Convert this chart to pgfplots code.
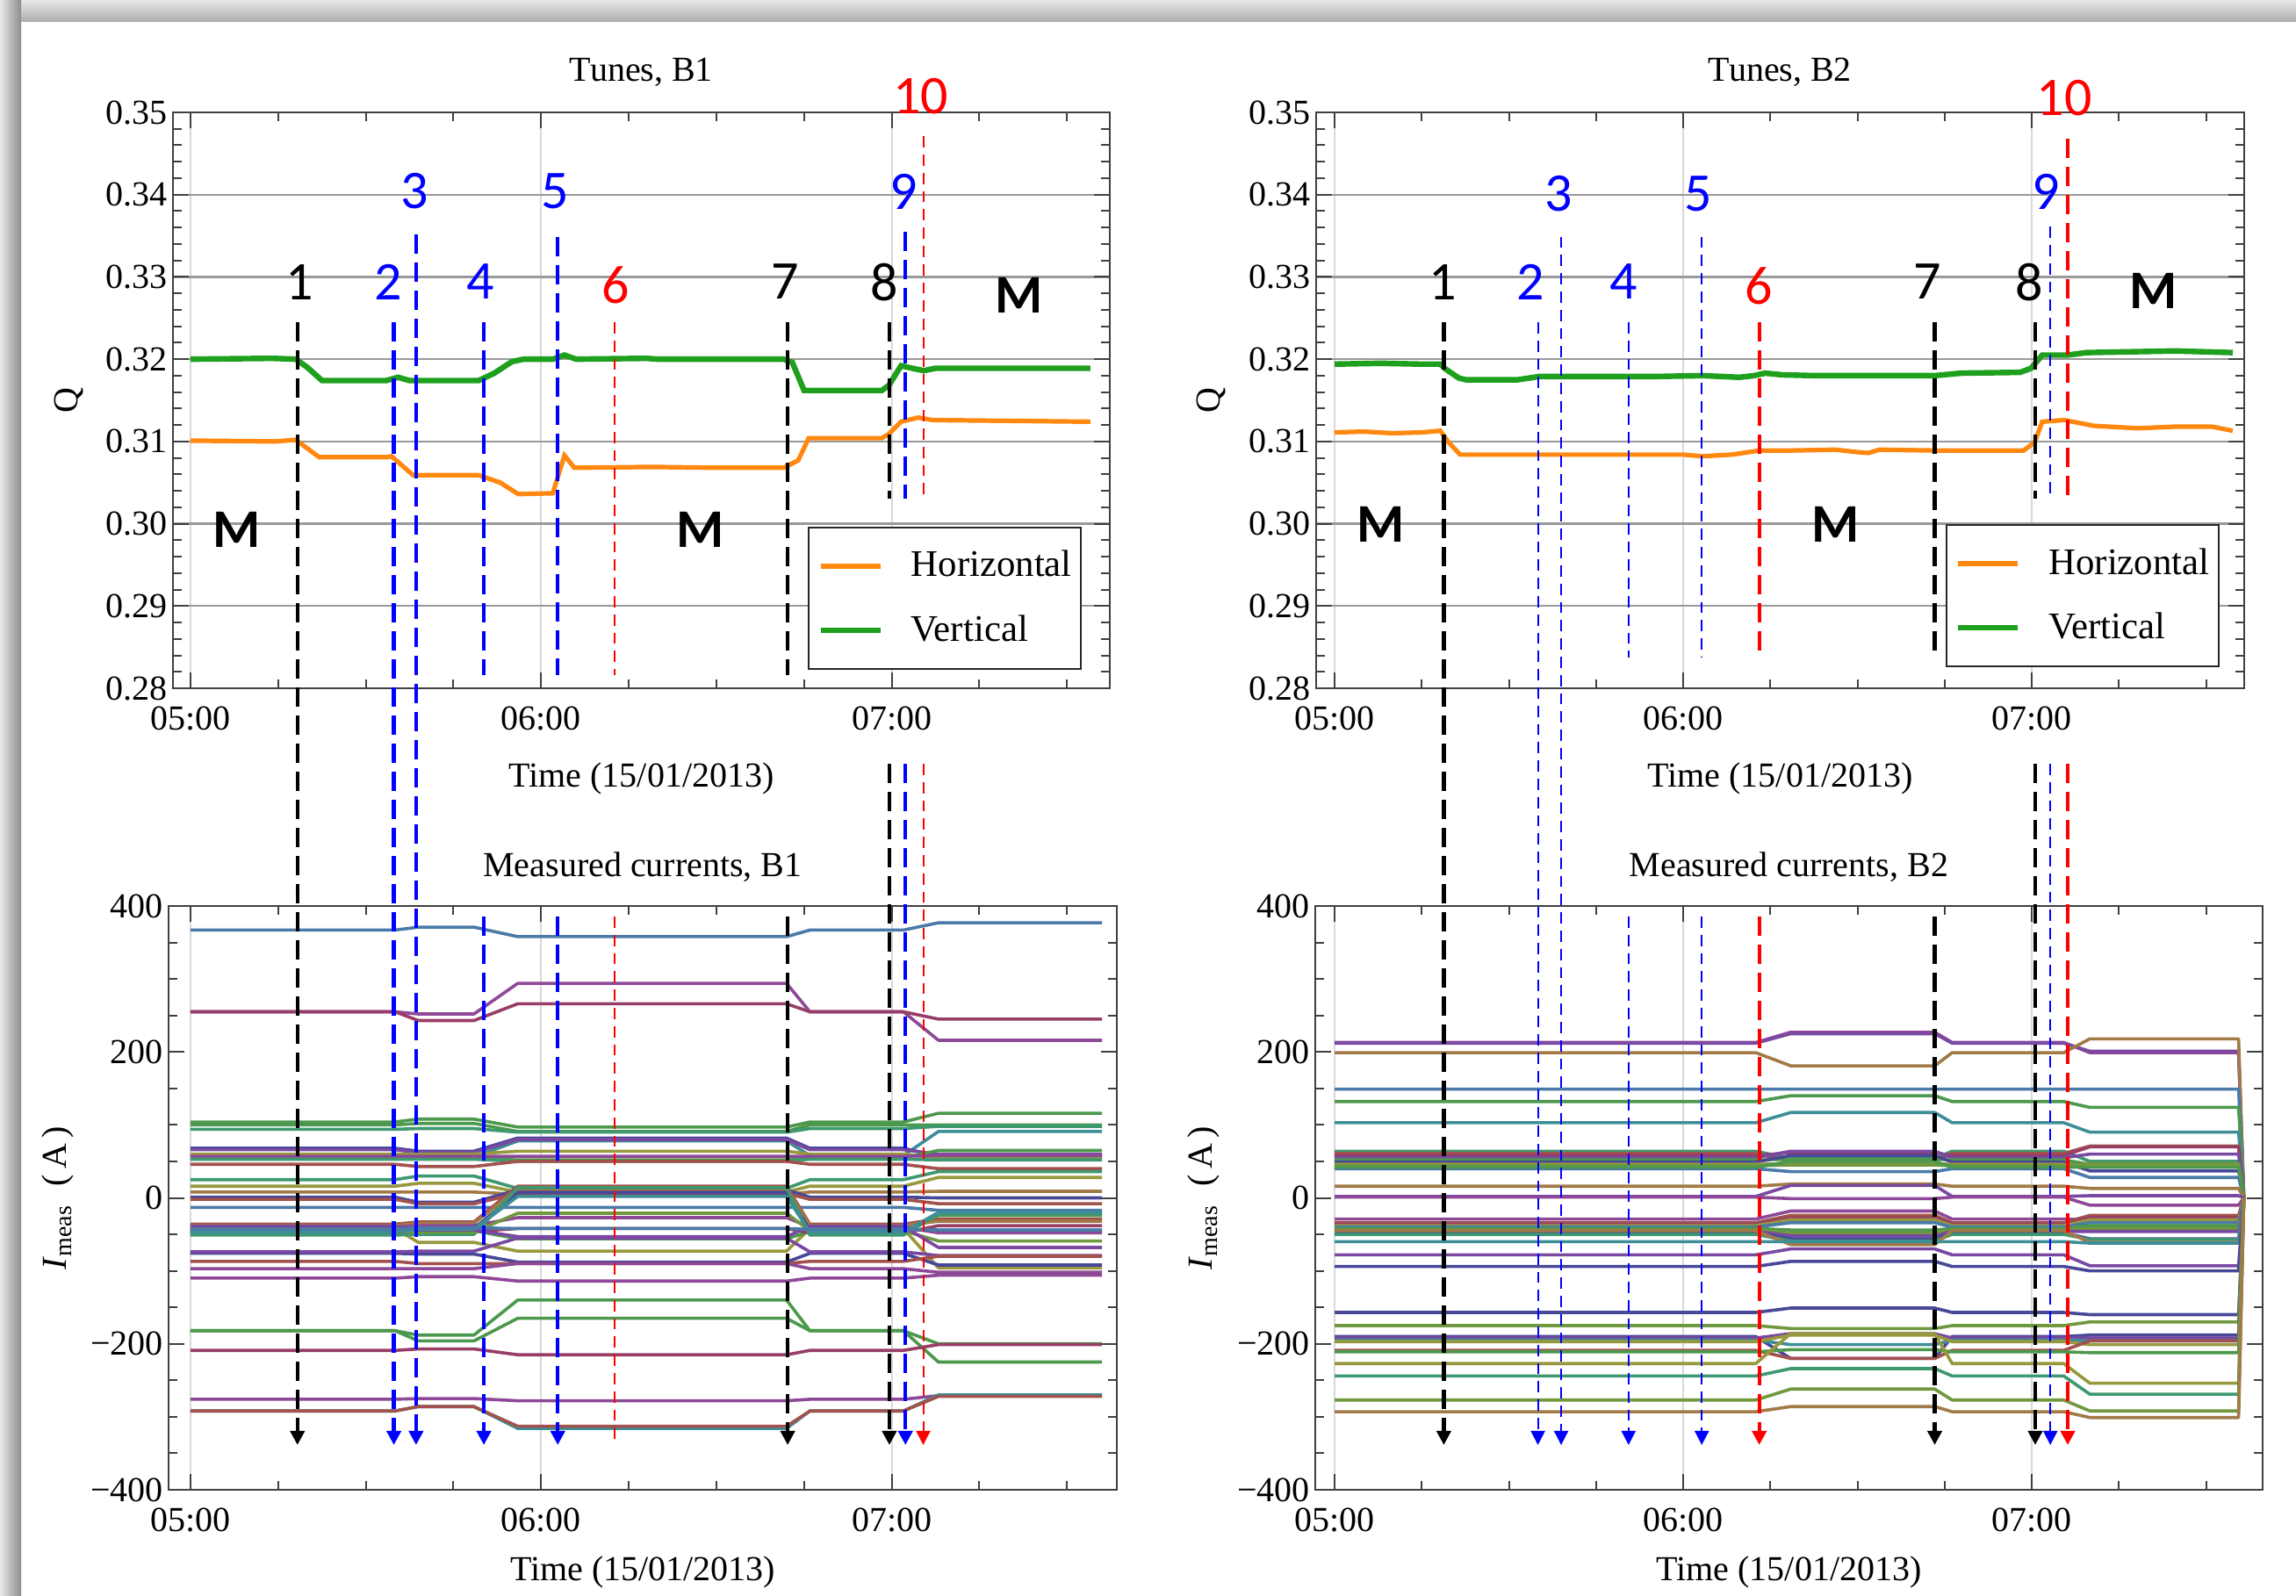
\documentclass[border=0pt]{standalone}
\usepackage{fontspec}
\setmainfont{Liberation Serif}
\newfontfamily\cfont{Carlito}
\usepackage{pgfplots}
\pgfplotsset{compat=1.18}
\usetikzlibrary{arrows.meta}

\definecolor{qorange}{RGB}{255,136,17}
\definecolor{qgreen}{RGB}{30,160,30}
\definecolor{c1}{RGB}{74,122,168}
\definecolor{c2}{RGB}{142,72,152}
\definecolor{c3}{RGB}{152,62,102}
\definecolor{c4}{RGB}{76,152,76}
\definecolor{c5}{RGB}{62,142,152}
\definecolor{c6}{RGB}{72,72,152}
\definecolor{c7}{RGB}{162,82,76}
\definecolor{c8}{RGB}{152,152,62}
\definecolor{c9}{RGB}{162,122,72}
\definecolor{c10}{RGB}{112,152,62}
\definecolor{c11}{RGB}{62,152,112}
\definecolor{c12}{RGB}{122,72,162}

\newcommand{\labfont}{\cfont\fontsize{15.5}{18}\selectfont}
\newcommand{\labfontb}{\cfont\bfseries\fontsize{15.5}{18}\selectfont}

\tikzset{
  dK/.style={black, line width=1.1pt, dash pattern=on 5.5pt off 2.5pt},
  dB/.style={blue, line width=1.1pt, dash pattern=on 5.5pt off 2.5pt},
  dR/.style={red, line width=1.1pt, dash pattern=on 5.5pt off 2.5pt},
  dbt/.style={blue, line width=0.5pt, dash pattern=on 3.2pt off 2pt},
  drt/.style={red, line width=0.5pt, dash pattern=on 3.2pt off 2pt},
  arr/.style={-{Triangle[width=4pt,length=4pt]}},
  lab/.style={font=\labfont, inner sep=0pt},
  labM/.style={font=\labfontb, inner sep=0pt},
  cur/.style={line width=0.9pt, line join=round},
}

% B1 currents: levels S0..S4 between the correction steps
\newcommand{\curA}[6]{\addplot[cur,#1] coordinates {(0,#2)(35,#2)(39,#3)(48.5,#3)(56,#4)(102,#4)(106,#5)(122,#5)(128,#6)(156,#6)};}
% B2 currents: levels S0..S3, then back to zero at the end
\newcommand{\curB}[5]{\addplot[cur,#1] coordinates {(0,#2)(72.5,#2)(78.5,#3)(103.3,#3)(106.3,#4)(125.5,#4)(130,#5)(155.6,#5)(156.5,0)};}

\pgfplotsset{
  common/.style={scale only axis, anchor=south west, clip=false,
    axis line style={black!75, line width=0.5pt},
    tick style={black!75, line width=0.5pt},
    major tick length=4.5pt, minor tick length=2.5pt,
    tick align=inside,
    xtick={0,60,120}, xticklabels={05:00,06:00,07:00},
    minor xtick={15,30,45,75,90,105,135,150},
    xmajorgrids, major x grid style={black!15, line width=0.5pt},
    tick label style={font=\fontsize{10}{12}\selectfont},
    xticklabel style={yshift=-1.7pt},
    yticklabel style={xshift=2pt},
    xlabel={Time (15/01/2013)},
    label style={font=\fontsize{10}{12}\selectfont},
    title style={font=\fontsize{9.8}{12}\selectfont},
  },
  tunes/.style={common, height=164pt, ymin=0.28, ymax=0.35,
    ytick={0.28,0.29,0.30,0.31,0.32,0.33,0.34,0.35},
    yticklabels={0.28,0.29,0.30,0.31,0.32,0.33,0.34,0.35},
    minor y tick num=4,
    ymajorgrids, major y grid style={black!40, line width=0.6pt},
    every axis title/.style={at={(0.5,1)}, anchor=base, yshift=9pt},
    every axis x label/.style={at={(axis description cs:0.5,0)}, anchor=base, yshift=-28pt},
    ylabel={Q},
    legend cell align=left,
    legend image code/.code={\draw[##1] (0pt,0pt) -- (17pt,0pt);},
    legend style={anchor=north west, draw=black!85, line width=0.5pt, fill=white,
      font=\fontsize{10.7}{13}\selectfont, inner xsep=2.6pt, inner ysep=6pt,
      row sep=8.3pt,
      nodes={inner xsep=0pt, inner ysep=0pt, text height=8pt, text depth=2pt},
      /tikz/every odd column/.append style={column sep=8pt}},
  },
  currents/.style={common, height=166.25pt, ymin=-400, ymax=400,
    ytick={-400,-200,0,200,400},
    yticklabels={−400,−200,0,200,400},
    minor y tick num=3,
    every axis title/.style={at={(0.5,1)}, anchor=base, yshift=8.5pt},
    every axis x label/.style={at={(axis description cs:0.5,0)}, anchor=base, yshift=-25.9pt},
    ylabel={\textit{I}\textsubscript{meas}\hspace{0.5em}(\,A\,)},
  },
}

\begin{document}
\begin{tikzpicture}
\path[use as bounding box] (0pt,0pt) rectangle (653.75pt,-454.5pt);
\fill[white] (0pt,0pt) rectangle (653.75pt,-454.5pt);
\shade[top color=black!9, bottom color=black!32] (0pt,0pt) rectangle (653.75pt,-6.25pt);
\shade[left color=black!9, right color=black!45] (0pt,0pt) rectangle (6pt,-454.5pt);

% ---------------- Tunes B1 ----------------
\begin{axis}[tunes, at={(49.25pt,-196pt)}, width=266.75pt,
  xmin=-3.005, xmax=157.33, title={Tunes, B1},
  every axis y label/.style={at={(axis description cs:-0.1106,0.5)}, rotate=90, anchor=center},
  legend style={at={(0.6776,0.2805)}}]
\addplot[qorange, line width=1.3pt] coordinates {(0,0.3101)(14.5,0.3100)(18,0.3102)(22,0.3081)(33.8,0.3081)(34.4,0.3082)(38.1,0.3059)(49.3,0.3059)(53,0.3050)(56.1,0.3036)(62,0.3037)(64,0.3083)(65.7,0.3068)(79,0.3069)(90,0.3068)(101.5,0.3068)(104,0.3077)(105.8,0.3104)(118.3,0.3104)(119.5,0.3109)(121.6,0.3124)(124.5,0.3129)(127,0.3126)(141,0.3125)(154,0.3124)};
\addlegendentry{Horizontal}
\addplot[qgreen, line width=1.6pt] coordinates {(0,0.3200)(14,0.3201)(18,0.3200)(20,0.3190)(22.5,0.3174)(33.5,0.3174)(35.5,0.3178)(37.5,0.3174)(49.3,0.3174)(52,0.3183)(55,0.3197)(57,0.3200)(62,0.3200)(64,0.3205)(66,0.3200)(78,0.3201)(80,0.3200)(101.5,0.3200)(103,0.3196)(105,0.3162)(118.3,0.3162)(119.5,0.3168)(121.6,0.3192)(123.5,0.3189)(125.5,0.3186)(127.5,0.3189)(154,0.3189)};
\addlegendentry{Vertical}
\coordinate (A1) at (axis cs:18.3,0.3245);
\coordinate (A2) at (axis cs:34.8,0.3245);
\coordinate (A3) at (axis cs:38.6,0.3352);
\draw[dB] (axis cs:50.2,0.3245) -- (axis cs:50.2,0.2816);
\draw[dB] (axis cs:62.85,0.3349) -- (axis cs:62.85,0.2816);
\draw[drt] (axis cs:72.6,0.3245) -- (axis cs:72.6,0.2816);
\draw[dK] (axis cs:102.2,0.3245) -- (axis cs:102.2,0.2816);
\draw[dK] (axis cs:119.6,0.3245) -- (axis cs:119.6,0.3030);
\draw[dB] (axis cs:122.35,0.3355) -- (axis cs:122.35,0.3030);
\draw[drt] (axis cs:125.4,0.3471) -- (axis cs:125.4,0.3030);
\node[lab] at (axis cs:18.7,0.3294) {1};
\node[lab,text=blue] at (axis cs:33.8,0.3294) {2};
\node[lab,text=blue] at (axis cs:38.4,0.3404) {3};
\node[lab,text=blue] at (axis cs:49.6,0.3294) {4};
\node[lab,text=blue] at (axis cs:62.4,0.3404) {5};
\node[lab,text=red] at (axis cs:72.7,0.3290) {6};
\node[lab] at (axis cs:101.7,0.3294) {7};
\node[lab] at (axis cs:118.7,0.3294) {8};
\node[lab,text=blue] at (axis cs:122.0,0.3404) {9};
\node[lab,text=red] at (axis cs:125.0,0.3520) {10};
\node[labM] at (axis cs:7.9,0.2993) {M};
\node[labM] at (axis cs:87.2,0.2993) {M};
\node[labM] at (axis cs:141.8,0.3278) {M};
\end{axis}

% ---------------- Tunes B2 ----------------
\begin{axis}[tunes, at={(374.75pt,-196pt)}, width=264.25pt,
  xmin=-3.174, xmax=156.57, title={Tunes, B2},
  every axis y label/.style={at={(axis description cs:-0.1126,0.5)}, rotate=90, anchor=center},
  legend style={at={(0.678,0.285)}}]
\addplot[qorange, line width=1.3pt] coordinates {(0,0.3111)(5,0.3112)(10,0.3110)(15,0.3111)(18.2,0.3113)(19.5,0.3100)(21.6,0.3084)(30,0.3084)(45,0.3084)(60,0.3084)(63.3,0.3082)(68.4,0.3084)(73.2,0.3089)(78.6,0.3089)(86.2,0.3090)(90,0.3087)(91.9,0.3086)(93.8,0.3090)(103.3,0.3089)(107.8,0.3089)(118.6,0.3089)(120.5,0.3099)(121.8,0.3124)(125.6,0.3126)(130.7,0.3119)(138.3,0.3116)(144.7,0.3118)(151,0.3118)(154.6,0.3113)};
\addlegendentry{Horizontal}
\addplot[qgreen, line width=1.6pt] coordinates {(0,0.3194)(8,0.3195)(15,0.3194)(18.2,0.3194)(19.1,0.3188)(21.4,0.3177)(22.6,0.3175)(31.5,0.3175)(35.3,0.3179)(43,0.3179)(55.7,0.3179)(63.3,0.3180)(69.7,0.3178)(72.2,0.3180)(74.1,0.3183)(77,0.3181)(82.4,0.3180)(103.3,0.3180)(107.8,0.3183)(118,0.3184)(119.9,0.3189)(121.8,0.3205)(126.2,0.3205)(129.4,0.3208)(144.7,0.3210)(154.6,0.3208)};
\addlegendentry{Vertical}
\coordinate (B1) at (axis cs:18.8,0.3245);
\coordinate (B2) at (axis cs:35.0,0.3245);
\coordinate (B3) at (axis cs:39.0,0.3349);
\draw[dbt] (axis cs:50.6,0.3245) -- (axis cs:50.6,0.2837);
\draw[dbt] (axis cs:63.2,0.3349) -- (axis cs:63.2,0.2837);
\draw[dR] (axis cs:73.1,0.3245) -- (axis cs:73.1,0.2837);
\draw[dK] (axis cs:103.3,0.3245) -- (axis cs:103.3,0.2837);
\draw[dK] (axis cs:120.6,0.3245) -- (axis cs:120.6,0.3030);
\draw[dbt] (axis cs:123.2,0.3361) -- (axis cs:123.2,0.3030);
\draw[dR] (axis cs:126.2,0.3468) -- (axis cs:126.2,0.3030);
\node[lab] at (axis cs:18.6,0.3294) {1};
\node[lab,text=blue] at (axis cs:33.7,0.3294) {2};
\node[lab,text=blue] at (axis cs:38.5,0.3401) {3};
\node[lab,text=blue] at (axis cs:49.8,0.3294) {4};
\node[lab,text=blue] at (axis cs:62.6,0.3401) {5};
\node[lab,text=red] at (axis cs:73.0,0.3289) {6};
\node[lab] at (axis cs:102.1,0.3294) {7};
\node[lab] at (axis cs:119.5,0.3294) {8};
\node[lab,text=blue] at (axis cs:122.4,0.3404) {9};
\node[lab,text=red] at (axis cs:125.6,0.3517) {10};
\node[labM] at (axis cs:7.9,0.2999) {M};
\node[labM] at (axis cs:86.2,0.2999) {M};
\node[labM] at (axis cs:141.0,0.3283) {M};
\end{axis}

% ---------------- Currents B1 ----------------
\begin{axis}[currents, at={(48pt,-424.25pt)}, width=270pt,
  xmin=-3.757, xmax=158.53, title={Measured currents, B1},
  every axis y label/.style={at={(axis description cs:-0.1167,0.5)}, rotate=90, anchor=center}]
\curA{c1}{367}{371}{358}{367}{377}
\curA{c2}{255}{252}{294}{255}{216}
\curA{c3}{255}{243}{266}{255}{245}
\curA{c4}{104}{108}{97}{104}{116}
\curA{c4}{100}{102}{91}{100}{100}
\curA{c11}{94}{95}{90}{95}{98}
\curA{c5}{58}{56}{78}{58}{91}
\curA{c6}{68}{64}{82}{68}{57}
\curA{c12}{66}{62}{80}{66}{60}
\curA{c8}{60}{60}{64}{60}{55}
\curA{c4}{55}{55}{52}{55}{65}
\curA{c2}{57}{57}{57}{57}{58}
\curA{c11}{53}{53}{50}{53}{52}
\curA{c7}{46}{43}{50}{46}{40}
\curA{c11}{25}{30}{13}{25}{36}
\curA{c8}{16}{20}{8}{16}{28}
\curA{c9}{8}{8}{5}{8}{9}
\curA{c6}{1}{-6}{11}{1}{0}
\curA{c7}{-2}{-8}{6}{-2}{-8}
\curA{c1}{-13}{-13}{-13}{-13}{-17}
\curA{c7}{-36}{-33}{16}{-36}{-29}
\curA{c9}{-38}{-35}{12}{-38}{-32}
\curA{c2}{-40}{-38}{-27}{-40}{-48}
\curA{c8}{-42}{-61}{-73}{-42}{-96}
\curA{c6}{-44}{-42}{7}{-44}{-44}
\curA{c4}{-46}{-45}{-56}{-46}{-24}
\curA{c3}{-48}{-46}{-42}{-48}{-38}
\curA{c11}{-51}{-50}{14}{-51}{-22}
\curA{c10}{-45}{-47}{-21}{-45}{-59}
\curA{c12}{-39}{-44}{-53}{-39}{-68}
\curA{c5}{-47}{-43}{2}{-47}{-20}
\curA{c1}{-43}{-41}{-42}{-43}{-44}
\curA{c6}{-76}{-77}{-88}{-76}{-92}
\curA{c12}{-74}{-73}{-55}{-74}{-79}
\curA{c7}{-87}{-90}{-90}{-87}{-80}
\curA{c2}{-97}{-97}{-90}{-97}{-102}
\curA{c2}{-110}{-108}{-114}{-110}{-106}
\curA{c4}{-182}{-188}{-140}{-182}{-200}
\curA{c4}{-182}{-196}{-165}{-182}{-225}
\curA{c3}{-209}{-207}{-215}{-209}{-201}
\curA{c2}{-276}{-275}{-278}{-276}{-271}
\curA{c5}{-292}{-286}{-316}{-292}{-270}
\curA{c7}{-292}{-286}{-313}{-292}{-272}
\coordinate (A1b) at (axis cs:18.3,-338.6);
\coordinate (A2b) at (axis cs:34.8,-338.6);
\coordinate (A3b) at (axis cs:38.6,-338.6);
\draw[dB,arr] (axis cs:50.2,385.6) -- (axis cs:50.2,-338.6);
\draw[dB,arr] (axis cs:62.85,385.6) -- (axis cs:62.85,-338.6);
\draw[drt] (axis cs:72.6,385.6) -- (axis cs:72.6,-338.6);
\draw[dK,arr] (axis cs:102.2,385.6) -- (axis cs:102.2,-338.6);
\draw[dK,arr] (axis cs:119.6,595) -- (axis cs:119.6,-338.6);
\draw[dB,arr] (axis cs:122.35,595) -- (axis cs:122.35,-338.6);
\draw[drt,arr] (axis cs:125.4,595) -- (axis cs:125.4,-338.6);
\end{axis}

% ---------------- Currents B2 ----------------
\begin{axis}[currents, at={(374.5pt,-424.25pt)}, width=269.75pt,
  xmin=-3.325, xmax=159.74, title={Measured currents, B2},
  every axis y label/.style={at={(axis description cs:-0.1177,0.5)}, rotate=90, anchor=center}]
\curB{c2}{213}{227}{213}{199}
\curB{c12}{212}{225}{212}{201}
\curB{c9}{199}{181}{199}{218}
\curB{c1}{149}{149}{149}{149}
\curB{c4}{132}{140}{132}{124}
\curB{c5}{103}{117}{103}{90}
\curB{c11}{64}{54}{64}{50}
\curB{c7}{61}{50}{61}{71}
\curB{c3}{58}{62}{58}{70}
\curB{c12}{55}{64}{55}{60}
\curB{c4}{52}{53}{52}{46}
\curB{c6}{49}{58}{49}{37}
\curB{c8}{46}{47}{46}{44}
\curB{c10}{44}{45}{44}{47}
\curB{c1}{40}{36}{40}{28}
\curB{c4}{42}{50}{42}{42}
\curB{c9}{16}{19}{16}{13}
\curB{c12}{2}{17}{2}{3}
\curB{c2}{1}{-1}{1}{-10}
\curB{c2}{-29}{-18}{-29}{-30}
\curB{c7}{-34}{-24}{-34}{-24}
\curB{c3}{-36}{-28}{-36}{-27}
\curB{c8}{-38}{-30}{-38}{-30}
\curB{c1}{-40}{-34}{-40}{-34}
\curB{c4}{-42}{-44}{-42}{-38}
\curB{c10}{-44}{-48}{-44}{-42}
\curB{c12}{-46}{-52}{-46}{-46}
\curB{c6}{-48}{-56}{-48}{-56}
\curB{c11}{-50}{-59}{-50}{-57}
\curB{c9}{-45}{-64}{-45}{-61}
\curB{c5}{-60}{-60}{-60}{-62}
\curB{c12}{-78}{-70}{-78}{-93}
\curB{c6}{-94}{-87}{-94}{-100}
\curB{c6}{-157}{-151}{-157}{-160}
\curB{c10}{-175}{-179}{-175}{-170}
\curB{c6}{-190}{-220}{-190}{-188}
\curB{c12}{-192}{-186}{-192}{-192}
\curB{c5}{-195}{-201}{-195}{-196}
\curB{c8}{-197}{-188}{-197}{-201}
\curB{c7}{-209}{-220}{-209}{-196}
\curB{c4}{-211}{-208}{-211}{-212}
\curB{c8}{-227}{-186}{-227}{-254}
\curB{c11}{-244}{-234}{-244}{-269}
\curB{c10}{-277}{-262}{-277}{-292}
\curB{c9}{-293}{-286}{-293}{-301}
\coordinate (B1b) at (axis cs:18.8,-338.6);
\coordinate (B2b) at (axis cs:35.0,-338.6);
\coordinate (B3b) at (axis cs:39.0,-338.6);
\draw[dbt,arr] (axis cs:50.6,385.6) -- (axis cs:50.6,-338.6);
\draw[dbt,arr] (axis cs:63.2,385.6) -- (axis cs:63.2,-338.6);
\draw[dR,arr] (axis cs:73.1,385.6) -- (axis cs:73.1,-338.6);
\draw[dK,arr] (axis cs:103.3,385.6) -- (axis cs:103.3,-338.6);
\draw[dK,arr] (axis cs:120.6,595) -- (axis cs:120.6,-338.6);
\draw[dbt,arr] (axis cs:123.2,595) -- (axis cs:123.2,-338.6);
\draw[dR,arr] (axis cs:126.2,595) -- (axis cs:126.2,-338.6);
\end{axis}

% annotation lines running from the tune plots down to the current plots
\draw[dK,arr] (A1) -- (A1 |- A1b);
\draw[dB,arr] (A2) -- (A2 |- A2b);
\draw[dB,arr] (A3) -- (A3 |- A3b);
\draw[dK,arr] (B1) -- (B1 |- B1b);
\draw[dbt,arr] (B2) -- (B2 |- B2b);
\draw[dbt,arr] (B3) -- (B3 |- B3b);
\end{tikzpicture}
\end{document}
